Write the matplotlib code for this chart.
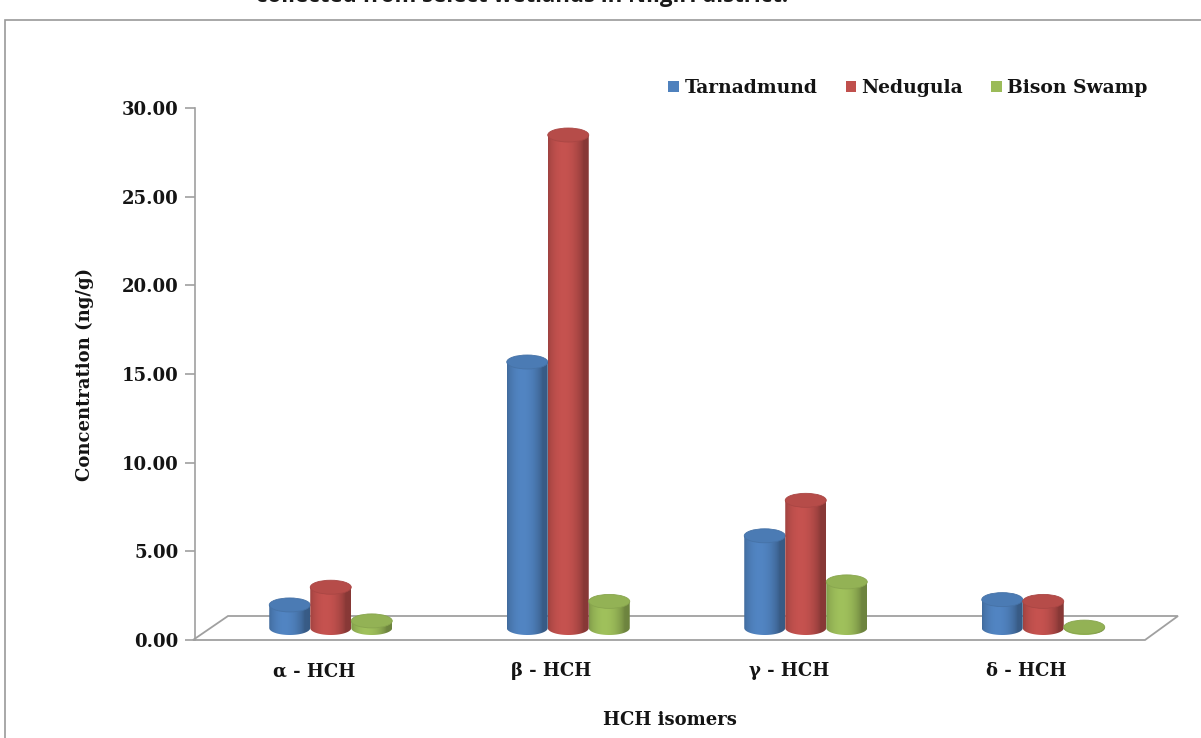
import numpy as np
import matplotlib
matplotlib.use("Agg")
import matplotlib.pyplot as plt
from matplotlib.path import Path
from matplotlib.patches import PathPatch, Ellipse, Polygon, Rectangle

# ---- data ----
isomers = ["α - HCH", "β - HCH", "γ - HCH", "δ - HCH"]
sites = ["Tarnadmund", "Nedugula", "Bison Swamp"]
tarnadmund = [1.3, 15.0, 5.2, 1.6]
nedugula = [2.3, 27.8, 7.2, 1.5]
bison_swamp = [0.4, 1.5, 2.6, 0.05]
yticks = [0, 5, 10, 15, 20, 25, 30]

series = [tarnadmund, nedugula, bison_swamp]
colors = ["#4F81BD", "#C0504D", "#9BBB59"]

W, H = 1201, 738
fig = plt.figure(figsize=(W / 100, H / 100), dpi=100)


def fx(x):
    return x / W


def fy(y):
    return (H - y) / H


# plot area geometry (pixels)
ax_l, ax_r, ax_t, ax_b = 195, 1145, 108, 640
depth_dx, depth_dy = 33, 24      # floor depth offset
bar_dx, bar_dy = 17, 12          # bars sit at mid depth

serif = "DejaVu Serif"
fs = 13
txt_col = "#141414"

# outer chart border (runs off the right and bottom edges)
fig.add_artist(Rectangle((fx(5), fy(760)), fx(1230) - fx(5), fy(20) - fy(760),
                         transform=fig.transFigure, fill=False,
                         edgecolor="#9a9a9a", linewidth=1.2))

# title, partly above the top of the canvas
fig.text(0.5 * (fx(255) + fx(790)), fy(2), "collected from select wetlands in Nilgiri district.",
         ha="center", va="baseline", fontsize=16, fontweight="bold",
         family="Open Sans", color="#1a1a1a")

# front axes carrying the value scale
ax = fig.add_axes([fx(ax_l), fy(ax_b), fx(ax_r) - fx(ax_l), fy(ax_t) - fy(ax_b)])
ax.set_xlim(0, 4)
ax.set_ylim(0, 30)
ax.patch.set_alpha(0)
for s in ["top", "right", "bottom"]:
    ax.spines[s].set_visible(False)
ax.spines["left"].set_color("#a0a0a0")
ax.spines["left"].set_linewidth(1.2)
ax.set_yticks(yticks)
ax.set_yticklabels([f"{v:.2f}" for v in yticks], family=serif, fontweight="bold",
                   fontsize=fs, color=txt_col)
ax.tick_params(axis="y", length=7, color="#a0a0a0", width=1.2, pad=5)
ax.set_xticks([i + 0.5 for i in range(len(isomers))])
ax.set_xticklabels(isomers, family=serif, fontweight="bold", fontsize=fs, color=txt_col)
ax.tick_params(axis="x", length=0, pad=16)
ax.set_xlabel("HCH isomers", family=serif, fontweight="bold", fontsize=fs,
              color=txt_col, labelpad=22)
ax.set_ylabel("Concentration (ng/g)", family=serif, fontweight="bold", fontsize=fs,
              color=txt_col, labelpad=20)

# floor parallelogram
floor = [(ax_l - 2, ax_b), (ax_r, ax_b), (ax_r + depth_dx, ax_b - depth_dy),
         (ax_l + depth_dx, ax_b - depth_dy)]
fig.add_artist(Polygon([(fx(x), fy(y)) for x, y in floor], closed=True,
                       transform=fig.transFigure, facecolor="white",
                       edgecolor="#a0a0a0", linewidth=1.3, zorder=1))

# bars axes, shifted to the mid-depth plane (extended below zero for the base ellipses)
px_per_unit = (ax_b - ax_t) / 30.0
ylo = -2.0
axb = fig.add_axes([fx(ax_l + bar_dx), fy(ax_b - bar_dy - ylo * px_per_unit),
                    fx(ax_r) - fx(ax_l), fy(ax_t) - fy(ax_b - ylo * px_per_unit)], zorder=3)
axb.patch.set_alpha(0)
axb.axis("off")

bar_w = 41.0 / ((ax_r - ax_l) / 4.0)
ell_h = 14.0 / px_per_unit


def shade(color, n=64):
    rgb = np.array(matplotlib.colors.to_rgb(color))
    t = np.linspace(0, 1, n)
    f = 0.82 + 0.26 * np.sin(np.pi * np.clip(t * 1.15, 0, 1)) ** 0.7 - 0.12 * t
    img = np.clip(rgb[None, :] * f[:, None], 0, 1)
    return img[None, :, :]


def cylinder(xc, v, color, z):
    x0, x1 = xc - bar_w / 2, xc + bar_w / 2
    th = np.linspace(np.pi, 2 * np.pi, 40)
    bottom = np.column_stack([xc + bar_w / 2 * np.cos(th), ell_h / 2 * np.sin(th)])
    verts = [(x0, v)] + [tuple(p) for p in bottom] + [(x1, v), (x0, v)]
    codes = [Path.MOVETO] + [Path.LINETO] * (len(verts) - 2) + [Path.CLOSEPOLY]
    body = PathPatch(Path(verts, codes), facecolor="none", edgecolor="none", zorder=z)
    axb.add_patch(body)
    im = axb.imshow(shade(color), extent=[x0, x1, -ell_h / 2, v + 0.01],
                    aspect="auto", interpolation="bilinear", zorder=z)
    im.set_clip_path(body)
    rgb = np.array(matplotlib.colors.to_rgb(color))
    top = Ellipse((xc, v), bar_w, ell_h, facecolor=np.clip(rgb * 0.95, 0, 1),
                  edgecolor=np.clip(rgb * 0.88, 0, 1), linewidth=0.6, zorder=z + 0.5)
    axb.add_patch(top)


for j, (vals, col) in enumerate(zip(series, colors)):
    for i, v in enumerate(vals):
        xc = i + 0.5 + (j - 1) * bar_w
        cylinder(xc, v, col, 3 + j)

axb.set_xlim(0, 4)
axb.set_ylim(ylo, 30)

# legend
handles = [Rectangle((0, 0), 1, 1, facecolor=c, edgecolor="none") for c in colors]
leg = fig.legend(handles, sites, loc="center", bbox_to_anchor=(fx(908), fy(88)),
                 ncol=3, frameon=False, handlelength=0.55, handleheight=0.55,
                 handletextpad=0.3, columnspacing=1.5,
                 prop={"family": serif, "weight": "bold", "size": 13.5})
for t in leg.get_texts():
    t.set_color(txt_col)

fig.savefig("out.png", dpi=100)
